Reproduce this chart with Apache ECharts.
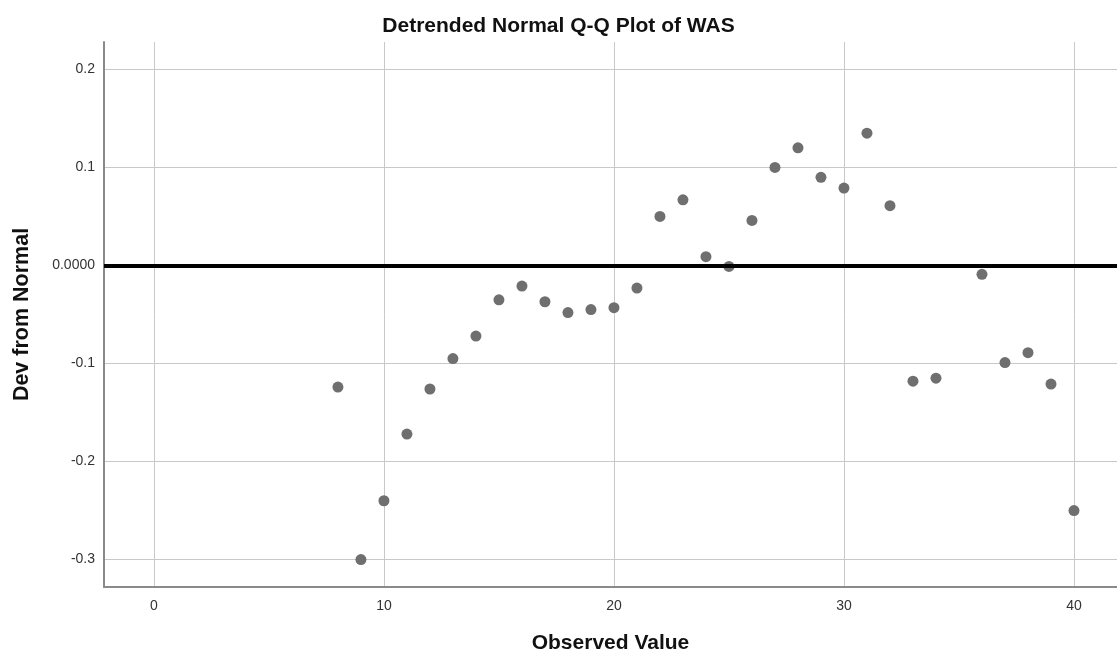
<!DOCTYPE html>
<html>
<head>
<meta charset="utf-8">
<script src="https://cdn.jsdelivr.net/npm/echarts@6/dist/echarts.min.js"></script>
<style>
html,body{margin:0;padding:0;background:#fff;}
#chart{width:1117px;height:654px;}
</style>
</head>
<body>
<div id="chart"></div>
<script>
// Observed values (WAS) and detrended deviations from normal
const observed = [8, 9, 10, 11, 12, 13, 14, 15, 16, 17, 18, 19, 20, 21, 22, 23, 24, 25, 26, 27, 28, 29, 30, 31, 32, 33, 34, 36, 37, 38, 39, 40];
const deviation = [-0.124, -0.300, -0.240, -0.172, -0.126, -0.095, -0.072, -0.035, -0.021, -0.037, -0.048, -0.045, -0.043, -0.023, 0.050, 0.067, 0.009, -0.001, 0.046, 0.100, 0.120, 0.090, 0.079, 0.135, 0.061, -0.118, -0.115, -0.009, -0.099, -0.089, -0.121, -0.250];
const referenceLevel = [0];
const titleText = 'Detrended Normal Q-Q Plot of WAS';
const xName = 'Observed Value';
const yName = 'Dev from Normal';

const points = observed.map((v, i) => [v, deviation[i]]);
const FONT = 'Liberation Sans, Arial, sans-serif';

const chart = echarts.init(document.getElementById('chart'));
chart.setOption({
  animation: false,
  backgroundColor: '#ffffff',
  title: {
    text: titleText,
    left: 'center',
    top: 11,
    textStyle: { fontFamily: FONT, fontSize: 21, fontWeight: 'bold', color: '#111' }
  },
  grid: { left: 104, right: 0, top: 42, bottom: 67, containLabel: false, outerBoundsMode: 'none' },
  xAxis: {
    type: 'value',
    min: -2.17,
    max: 41.87,
    name: xName,
    nameLocation: 'middle',
    nameGap: 46,
    nameTextStyle: { fontFamily: FONT, fontSize: 21, fontWeight: 'bold', color: '#111' },
    axisLine: { show: true, onZero: false, lineStyle: { color: '#8a8a8a', width: 2 } },
    axisTick: { show: false },
    axisLabel: {
      margin: 12, fontFamily: FONT, fontSize: 14, color: '#333',
      showMinLabel: false, showMaxLabel: false,
      formatter: v => (Math.abs(v - Math.round(v)) < 1e-9 && v % 10 === 0) ? String(v) : ''
    },
    splitLine: { show: true, showMinLine: false, showMaxLine: false, lineStyle: { color: '#c8c8c8', width: 1 } }
  },
  yAxis: {
    type: 'value',
    min: -0.328,
    max: 0.228,
    name: yName,
    nameLocation: 'middle',
    nameGap: 71,
    nameRotate: 90,
    nameTextStyle: { fontFamily: FONT, fontSize: 21.5, fontWeight: 'bold', color: '#111' },
    axisLine: { show: true, onZero: false, lineStyle: { color: '#8a8a8a', width: 2 } },
    axisTick: { show: false },
    axisLabel: {
      margin: 9, fontFamily: FONT, fontSize: 14, color: '#333',
      showMinLabel: false, showMaxLabel: false,
      formatter: v => Math.abs(v) < 1e-9 ? '0.0000' : v.toFixed(1)
    },
    splitLine: { show: true, showMinLine: false, showMaxLine: false, lineStyle: { color: '#c8c8c8', width: 1 } }
  },
  series: [
    {
      type: 'scatter',
      data: points,
      symbol: 'circle',
      symbolSize: 11,
      itemStyle: { color: '#6f6f6f', opacity: 1 },
      z: 3
    },
    {
      type: 'line',
      data: [],
      markLine: {
        silent: true,
        symbol: ['none', 'none'],
        label: { show: false },
        lineStyle: { color: '#000', width: 4, type: 'solid' },
        data: referenceLevel.map(v => ({ yAxis: v }))
      },
      z: 4
    }
  ]
});
</script>
</body>
</html>
